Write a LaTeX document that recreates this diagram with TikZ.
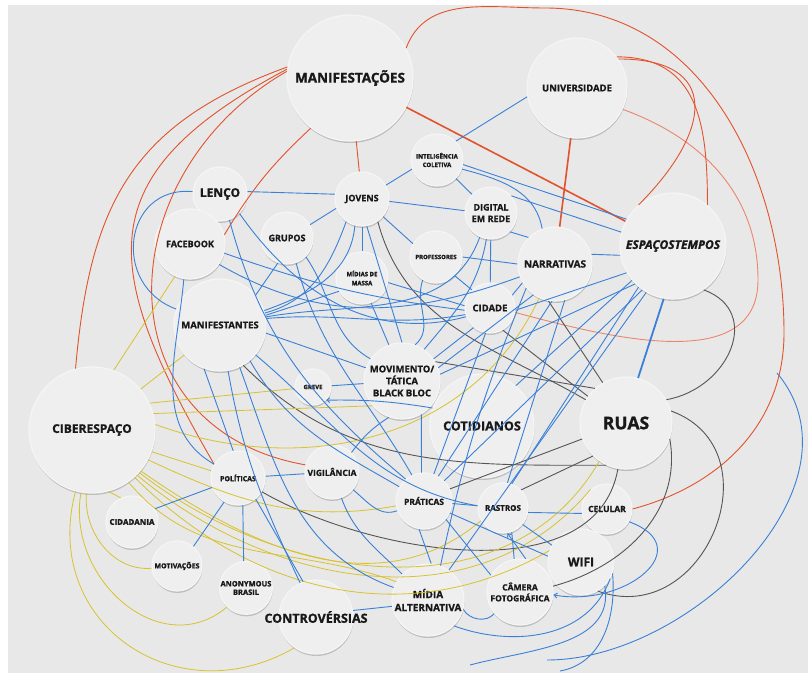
\documentclass[tikz,border=0pt]{standalone}
\usepackage{fontspec}
\setmainfont{Open Sans}[BoldFeatures={FakeBold=1.2},BoldItalicFeatures={FakeBold=1.2}]
\usepackage{tikz}
\usetikzlibrary{arrows.meta,shadows}

\definecolor{fundo}{HTML}{E8E8E8}
\definecolor{bolhacor}{HTML}{EFEFEF}
\definecolor{azulln}{HTML}{3A80D6}
\definecolor{vermelholn}{HTML}{E2522C}
\definecolor{amareloln}{HTML}{D9C22E}
\definecolor{cinzaln}{HTML}{555555}
\newcommand{\tam}[2]{\fontsize{#1}{#2}\selectfont}

\tikzset{
  bolha/.style={circle,inner sep=0pt,minimum size=#1pt,fill=bolhacor,draw=white!96!black,
    line width=1.2pt,align=center,text=black!90,
    drop shadow={shadow xshift=0.4pt,shadow yshift=-2pt,opacity=0.4,fill=black!50}},
  azul/.style={draw=azulln,line width=0.9pt},
  vermelho/.style={draw=vermelholn,line width=0.9pt},
  amarelo/.style={draw=amareloln,line width=0.8pt},
  cinza/.style={draw=cinzaln,line width=0.9pt},
}

\begin{document}
\begin{tikzpicture}[x=1pt,y=1pt,>={Straight Barb[length=3pt,width=5pt]}]
\useasboundingbox (0,0) rectangle (808,673);
\fill[fundo] (8,0) rectangle (808,668);

% conceitos
\node[bolha=126,font=\bfseries\tam{13.5}{16}] (manif) at (350,595) {MANIFESTAÇÕES};
\node[bolha=100,font=\bfseries\tam{9.5}{11}] (univ) at (577,585) {UNIVERSIDADE};
\node[bolha=106,font=\bfseries\itshape\tam{12}{14}] (espaco) at (673,427) {\makebox[0pt]{ESPAÇOSTEMPOS}};
\node[bolha=54,font=\bfseries\tam{12}{14}] (lenco) at (220,479) {LENÇO};
\node[bolha=54,font=\bfseries\tam{9}{11}] (jovens) at (362,474) {JOVENS};
\node[bolha=70,font=\bfseries\tam{9}{11}] (facebook) at (190,429) {FACEBOOK};
\node[bolha=52,font=\bfseries\tam{9}{11}] (grupos) at (287,435) {GRUPOS};
\node[bolha=52,font=\bfseries\tam{6}{9}] (midias) at (362,395) {MÍDIAS DE\\MASSA};
\node[bolha=92,font=\bfseries\tam{9.5}{11}] (manifestantes) at (220,348) {MANIFESTANTES};
\node[bolha=52,font=\bfseries\tam{6}{8.5}] (intel) at (437,513) {INTELIGÊNCIA\\COLETIVA};
\node[bolha=52,font=\bfseries\tam{9}{11.5}] (digital) at (491,460) {DIGITAL\\EM REDE};
\node[bolha=52,font=\bfseries\tam{6}{8}] (professores) at (436,416) {PROFESSORES};
\node[bolha=74,font=\bfseries\tam{10}{12}] (narrativas) at (555,409) {NARRATIVAS};
\node[bolha=50,font=\bfseries\tam{9.5}{11}] (cidade) at (490,365) {CIDADE};
\node[bolha=76,font=\bfseries\tam{9.5}{12}] (movimento) at (402,292) {MOVIMENTO/\\TÁTICA\\BLACK BLOC};
\node[bolha=36,font=\bfseries\tam{6}{8}] (greve) at (313,286) {GREVE};
\node[bolha=104,font=\bfseries\tam{12.5}{15}] (cotidianos) at (482,247) {COTIDIANOS};
\node[bolha=92,font=\bfseries\tam{17.5}{20}] (ruas) at (626,250) {RUAS};
\node[bolha=126,font=\bfseries\tam{12}{14}] (ciber) at (92,243) {CIBERESPAÇO};
\node[bolha=54,font=\bfseries\tam{7}{9}] (politicas) at (238,195) {POLÍTICAS};
\node[bolha=54,font=\bfseries\tam{8.5}{10}] (vigilancia) at (332,201) {VIGILÂNCIA};
\node[bolha=52,font=\bfseries\tam{8}{10}] (cidadania) at (132,151) {CIDADANIA};
\node[bolha=50,font=\bfseries\tam{7}{9}] (motivacoes) at (177,107) {MOTIVAÇÕES};
\node[bolha=52,font=\bfseries\tam{7.5}{8.5}] (anonymous) at (246,85) {ANONYMOUS\\BRASIL};
\node[bolha=74,font=\bfseries\tam{12.5}{15}] (controversias) at (316,56) {\makebox[0pt]{CONTROVÉRSIAS}};
\node[bolha=56,font=\bfseries\tam{8.5}{10}] (praticas) at (424,172) {PRÁTICAS};
\node[bolha=50,font=\bfseries\tam{8}{10}] (rastros) at (503,165) {RASTROS};
\node[bolha=50,font=\bfseries\tam{8.5}{10}] (celular) at (607,164) {CELULAR};
\node[bolha=66,font=\bfseries\tam{12}{14}] (wifi) at (581,111) {WIFI};
\node[bolha=66,font=\bfseries\tam{8.5}{11}] (camera) at (520,81) {CÂMERA\\FOTOGRÁFICA};
\node[bolha=72,font=\bfseries\tam{10}{13}] (midiaalt) at (428,73) {MÍDIA\\ALTERNATIVA};

\coordinate (topo) at (545,665);
\coordinate (borda) at (784,340);
\coordinate (vira) at (758,393);
\coordinate (arcoA) at (777,300);
\coordinate (arcoB) at (547,13);
\coordinate (arcoC) at (560,2);
\coordinate (arcoD) at (470,8);

% vermelho
\draw[vermelho] (manif.170) to[out=200,in=85,looseness=1.15] (ciber.105);
\draw[vermelho] (manif.172) to[out=208,in=120,looseness=1.45] (politicas.150);
\draw[vermelho] (manif.174) to[out=210,in=170,looseness=1.35] (vigilancia.165);
\draw[vermelho] (manif.232) to[bend right=8] (facebook.15);
\draw[vermelho] (manif) -- (jovens);
\draw[vermelho,line width=1.6pt] (manif) -- (espaco);
\draw[vermelho] (manif.28) to[out=70,in=180] (topo) to[out=0,in=90] (borda) to[out=-90,in=15] (celular.east);
\draw[vermelho,draw=vermelholn!70] (univ.-25) to[out=-20,in=90] (vira) to[out=-90,in=-15] (cidade.-10);
\draw[vermelho] (univ.35) to[out=0,in=45,looseness=1.8] (espaco.130);
\draw[vermelho] (univ.38) to[out=0,in=90,looseness=1.2] (espaco.50);
\draw[vermelho,line width=1.6pt] (univ) -- (narrativas);

% cinza
\draw[cinza] (espaco.-55) to[out=-20,in=10,looseness=1.4] (ruas.30);
\draw[cinza] (jovens.-55) to[out=-75,in=150] (ruas.150);
\draw[cinza] (movimento.30) -- (ruas.132);
\draw[cinza] (cidade.-60) -- (ruas.145);
\draw[cinza] (narrativas.-100) -- (ruas.120);
\draw[cinza] (rastros.45) -- (ruas.-135);
\draw[cinza] (praticas.25) -- (ruas.-160);
\draw[cinza] (manifestantes.-60) to[out=-45,in=180] (ruas.-115);
\draw[cinza] (politicas.-30) to[out=-30,in=-100,looseness=0.9] (ruas.-100);
\draw[cinza] (ruas.-20) to[out=-80,in=15] (camera.10);
\draw[cinza] (ruas.15) to[out=-20,in=-20,looseness=1.5] (wifi.-60);

% amarelo
\draw[amarelo] (ciber.70) -- (facebook.-115);
\draw[amarelo] (ciber.40) -- (manifestantes.-140);
\draw[amarelo] (ciber.5) to[out=-20,in=-115] (narrativas.-115);
\draw[amarelo] (ciber.15) -- (movimento.-140);
\draw[amarelo] (ciber.25) -- (greve.185);
\draw[amarelo] (ciber.-20) -- (politicas.165);
\draw[amarelo] (ciber.-28) to[out=-25,in=190] (praticas.190);
\draw[amarelo] (ciber.-40) to[out=-35,in=-140] (rastros.-150);
\draw[amarelo] (ciber.-42) to[out=-38,in=-120] (ruas.-125);
\draw[amarelo] (ciber.-45) to[out=-40,in=-130] (celular.130);
\draw[amarelo] (ciber.-48) to[out=-45,in=-150] (wifi.160);
\draw[amarelo] (ciber.-55) to[out=-50,in=160] (midiaalt.150);
\draw[amarelo] (ciber.-75) -- (cidadania.115);
\draw[amarelo] (ciber.-95) to[out=-95,in=185] (motivacoes.185);
\draw[amarelo] (ciber.-100) to[out=-100,in=-140,looseness=1.2] (anonymous.-135);
\draw[amarelo] (ciber.-105) to[out=-105,in=-150,looseness=1.3] (controversias.-125);

% azul
\draw[azul] (intel.45) -- (univ.190);
\draw[azul] (intel) -- (digital);
\draw[azul] (intel.-10) -- (espaco.150);
\draw[azul] (intel.-20) to[out=-15,in=100] (narrativas.110);
\draw[azul] (digital.40) -- (espaco.165);
\draw[azul] (jovens.-5) -- (digital.175);
\draw[azul] (jovens.30) -- (intel.200);
\draw[azul] (lenco.5) -- (jovens.170);
\draw[azul] (jovens.200) -- (grupos.30);
\draw[azul] (jovens) -- (midias);
\draw[azul] (jovens.-40) -- (professores.150);
\draw[azul] (jovens.-80) -- (movimento.90);
\draw[azul] (digital.-45) -- (narrativas.135);
\draw[azul] (professores.0) -- (narrativas.180);
\draw[azul] (digital) -- (cidade);
\draw[azul] (professores.-45) -- (cidade.135);
\draw[azul] (narrativas.-150) -- (cidade.30);
\draw[azul] (espaco.190) -- (narrativas.15);
\draw[azul] (lenco.175) to[out=175,in=160,looseness=1.5] (manifestantes.160);
\draw[azul] (lenco.-70) to[out=-75,in=140] (praticas.130);
\draw[azul] (lenco.-45) to[out=-55,in=195] (cidade.200);
\draw[azul] (facebook.-15) to[bend right=6] (cidade.185);
\draw[azul] (facebook.-35) to[out=-30,in=200] (narrativas.200);
\draw[azul] (facebook.-100) to[out=-95,in=150] (politicas.150);
\draw[azul] (jovens.-125) to[out=-110,in=15] (manifestantes.15);
\draw[azul] (jovens.-105) to[out=-95,in=20] (manifestantes.18);
\draw[azul] (midias.-150) -- (manifestantes.12);
\draw[azul] (digital.-115) to[out=-110,in=10] (manifestantes.10);
\draw[azul] (cidade.195) to[out=190,in=5] (manifestantes.8);
\draw[azul] (grupos.-110) -- (manifestantes.40);
\draw[azul] (grupos.-45) to[out=-55,in=150] (movimento.145);
\draw[azul] (grupos.-70) to[out=-75,in=120] (praticas.115);
\draw[azul] (midias.-10) -- (cidade.175);
\draw[azul] (midias.-70) -- (movimento.110);
\draw[azul] (manifestantes.-10) -- (movimento.160);
\draw[azul] (manifestantes.-50) to[out=-60,in=150] (praticas.150);
\draw[azul] (manifestantes.-65) to[out=-70,in=160] (midiaalt.160);
\draw[azul] (manifestantes.-80) to[out=-80,in=115] (controversias.115);
\draw[azul] (manifestantes.-40) to[out=-40,in=170] (rastros.175);
\draw[azul] (manifestantes.-110) -- (politicas.100);
\draw[azul] (digital.-100) to[out=-100,in=50] (movimento.55);
\draw[azul] (professores.-120) to[out=-110,in=40] (movimento.70);
\draw[azul] (narrativas.-125) -- (movimento.20);
\draw[azul] (narrativas.-95) -- (praticas.60);
\draw[azul] (narrativas.-75) -- (rastros.80);
\draw[azul] (narrativas.-140) to[bend right=5] (midiaalt.70);
\draw[azul] (espaco.-150) -- (cidade.-5);
\draw[azul] (espaco.-140) -- (cotidianos.50);
\draw[azul] (espaco.-130) -- (rastros.70);
\draw[azul] (espaco.-125) -- (praticas.45);
\draw[azul] (espaco.-120) -- (midiaalt.55);
\draw[azul] (espaco.-135) -- (movimento.10);
\draw[azul,line width=1.8pt] (espaco.-100) -- (ruas.75);
\draw[azul] (cidade.-130) -- (movimento.35);
\draw[azul] (cidade.-100) -- (praticas.70);
\draw[azul,->] (cotidianos.160) to[bend right=5] (greve.-45);
\draw[azul] (greve) -- (movimento);
\draw[azul] (movimento.-60) -- (praticas.95);
\draw[azul] (movimento.-110) to[bend right=10] (vigilancia.45);
\draw[azul] (politicas) -- (vigilancia);
\draw[azul] (politicas.200) -- (cidadania.30);
\draw[azul] (politicas.-120) -- (motivacoes.50);
\draw[azul] (politicas.-80) -- (anonymous.95);
\draw[azul] (politicas.-50) -- (controversias.110);
\draw[azul] (controversias.10) -- (midiaalt.190);
\draw[azul] (vigilancia.-40) to[out=-40,in=200] (praticas.200);
\draw[azul] (vigilancia.-70) to[out=-70,in=135] (midiaalt.135);
\draw[azul] (praticas) -- (rastros);
\draw[azul] (praticas.-100) -- (midiaalt.85);
\draw[azul] (praticas.-40) -- (camera.150);
\draw[azul] (praticas.-25) -- (wifi.170);
\draw[azul] (rastros.-10) -- (celular.190);
\draw[azul] (rastros.-70) -- (camera.100);
\draw[azul] (rastros.-40) -- (wifi.150);
\draw[azul,->] (camera.80) -- (rastros.-80);
\draw[azul,->] (celular.-30) to[out=-20,in=-10,looseness=1.8] (camera.-5);
\draw[azul] (midiaalt.-45) to[out=-20,in=-110] (wifi.-30);
\draw[azul] (midiaalt.-15) to[out=-60,in=-130] (camera.-140);
\draw[azul] (wifi.-20) to[out=-85,in=10] (arcoC);
\draw[azul] (arcoD) to[out=15,in=-80] (wifi.-45);
\draw[azul] (arcoA) to[out=-50,in=0,looseness=1.0] (arcoB);
\end{tikzpicture}
\end{document}
